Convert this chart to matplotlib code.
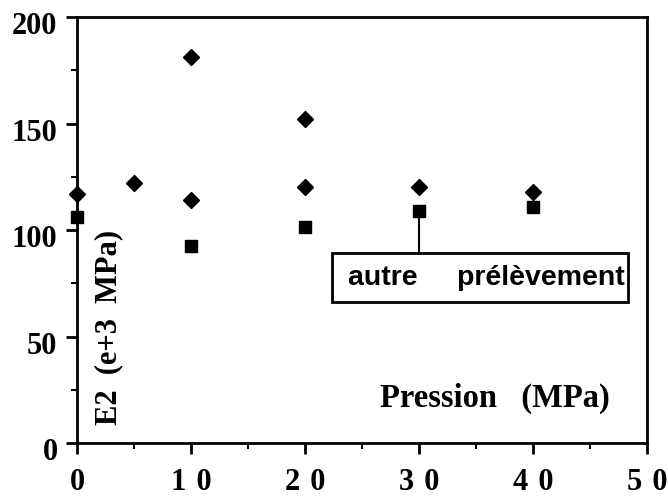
import matplotlib
matplotlib.use("Agg")
import matplotlib.pyplot as plt
import matplotlib.transforms as mtransforms
from matplotlib.ticker import MultipleLocator
from matplotlib.patches import Rectangle

# Data
diamond_x = [0, 5, 10, 10, 20, 20, 30, 40]
diamond_y = [117, 122, 181, 114, 152, 120, 120, 118]
square_x = [0, 10, 20, 30, 40]
square_y = [106, 92.5, 101.5, 109, 111]
xticks = [0, 10, 20, 30, 40, 50]
xticklabels = ["0", "1\u20040", "2\u20040", "3\u20040", "4\u20040", "5\u20040"]
yticks = [0, 50, 100, 150, 200]
yticklabels = ["0", "50", "100", "150", "200"]
annot_text = "autre     prélèvement"
xlabel = "Pression   (MPa)"
ylabel = "E2  (e+3  MPa)"

fig = plt.figure(figsize=(6.68, 4.98), dpi=100)
ax = fig.add_axes([77/668, 1-443/498, (647-77)/668, (443-17)/498])

ax.plot(diamond_x, diamond_y, linestyle="none", marker="D", ms=8.5,
        color="black", clip_on=False, zorder=5)
ax.plot(square_x, square_y, linestyle="none", marker="s", ms=8.5,
        color="black", clip_on=False, zorder=5)

ax.set_xlim(0, 50)
ax.set_ylim(0, 200)

serif = ["Liberation Serif", "DejaVu Serif"]
ax.set_xticks(xticks)
ax.set_xticklabels(xticklabels, fontfamily=serif, fontweight="bold", fontsize=22)
ax.set_yticks(yticks)
ax.set_yticklabels(yticklabels, fontfamily=serif, fontweight="bold", fontsize=22)
ax.xaxis.set_minor_locator(MultipleLocator(5))
ax.yaxis.set_minor_locator(MultipleLocator(25))
ax.tick_params(which="major", direction="out", length=8, width=2)
ax.tick_params(which="minor", direction="out", length=4.5, width=1.5)
ax.tick_params(axis="x", which="major", pad=10)
ax.tick_params(axis="y", which="major", pad=6)

off = mtransforms.ScaledTranslation(0, -6/100, fig.dpi_scale_trans)
for lab in ax.get_yticklabels():
    lab.set_transform(lab.get_transform() + off)

for s in ax.spines.values():
    s.set_linewidth(2)

ax.text(0.935, 0.105, xlabel, transform=ax.transAxes, ha="right", va="center",
        fontfamily=serif, fontweight="bold", fontsize=23.5)
ax.text(0.055, 0.042, ylabel, transform=ax.transAxes, ha="center", va="bottom",
        rotation=90, fontfamily=serif, fontweight="bold", fontsize=22)

# connector from point to box
ax.plot([30, 30], [square_y[3], 89.2], color="black", lw=1.5, zorder=3)
ax.add_patch(Rectangle((22.4, 66.2), 48.3 - 22.4, 89.2 - 66.2, facecolor="white",
                       edgecolor="black", lw=2, zorder=4))
ax.text(23.8, 77.3, annot_text, ha="left", va="center",
        fontfamily=["Liberation Sans", "DejaVu Sans"], fontweight="bold", fontsize=20.5,
        zorder=6)

fig.savefig("out.png", dpi=100)
